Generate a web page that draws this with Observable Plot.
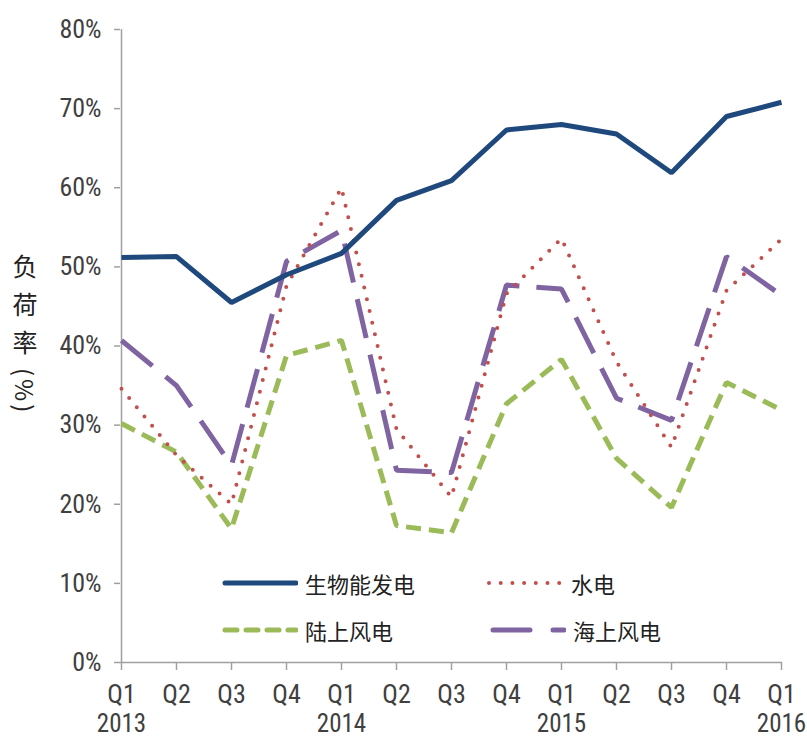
<!DOCTYPE html>
<html>
<head>
<meta charset="utf-8">
<script src="https://cdn.jsdelivr.net/npm/d3@7"></script>
<script src="https://cdn.jsdelivr.net/npm/@observablehq/plot@0.6"></script>
<style>
  html, body { margin: 0; padding: 0; background: #fff; }
  #wrap { position: relative; width: 807px; height: 740px; overflow: hidden; }
  #chart { position: absolute; left: 0; top: 0; }
  .ytitle {
    position: absolute; left: 12px; top: 254px;
    writing-mode: vertical-rl; text-orientation: mixed;
    font-family: "Noto Sans CJK SC", sans-serif; font-size: 25px;
    color: #222; line-height: 1;
  }
  .ytitle .cjk { letter-spacing: 13px; }
  .ytitle .side { text-orientation: sideways; letter-spacing: 3px; font-size: 24px; }
  .leg { position: absolute; display: flex; align-items: center; height: 30px;
         font-family: "Noto Sans CJK SC", sans-serif; font-size: 22px; color: #222; }
  .leg svg { display: block; margin-right: 7px; }
</style>
</head>
<body>
<div id="wrap">
  <div id="chart"></div>
  <div class="ytitle"><span class="cjk">负荷率</span><span class="side">(%)</span></div>
</div>
<script>
// ---- data ----
const periods = ["2013Q1","2013Q2","2013Q3","2013Q4","2014Q1","2014Q2","2014Q3","2014Q4","2015Q1","2015Q2","2015Q3","2015Q4","2016Q1"];
const quarterLabels = ["Q1","Q2","Q3","Q4","Q1","Q2","Q3","Q4","Q1","Q2","Q3","Q4","Q1"];
const yearLabels = ["2013","","","","2014","","","","2015","","","","2016"];
const yTicks = [0,10,20,30,40,50,60,70,80];

const seriesNames = ["生物能发电","水电","陆上风电","海上风电"];
const biomass  = [51.2, 51.3, 45.5, 49.0, 51.7, 58.4, 60.9, 67.3, 68.0, 66.8, 61.9, 69.0, 70.8];
const hydro    = [34.6, 26.2, 20.0, 47.6, 60.0, 29.5, 20.9, 46.6, 53.6, 38.0, 27.2, 47.0, 53.5];
const onshore  = [30.2, 26.6, 16.9, 38.8, 40.7, 17.3, 16.4, 32.7, 38.3, 25.8, 19.6, 35.4, 31.9];
const offshore = [40.7, 35.0, 24.9, 50.7, 54.6, 24.3, 24.0, 47.7, 47.2, 33.4, 30.6, 51.3, 46.4];

// ---- styles ----
const styles = {
  "生物能发电": {stroke: "#1f497d", strokeWidth: 5, dash: null, cap: "butt", legDash: null},
  "水电":       {stroke: "#c0504d", strokeWidth: 4, dash: "0,12", cap: "round", legDash: "0,11.7"},
  "陆上风电":   {stroke: "#9bbb59", strokeWidth: 5, dash: "15,8", cap: "butt", legDash: "12,9"},
  "海上风电":   {stroke: "#8064a2", strokeWidth: 5, dash: "40,17", cap: "butt", legDash: "37,23"}
};

const values = [biomass, hydro, onshore, offshore];
const rows = (arr) => periods.map((p, i) => ({period: p, value: arr[i]}));
const qMap = new Map(periods.map((p, i) => [p, quarterLabels[i]]));
const yMap = new Map(periods.map((p, i) => [p, yearLabels[i]]));

const axisFont = '"Liberation Sans Narrow", "Arial Narrow", "Roboto Condensed", "Liberation Sans", sans-serif';
const textColor = "#404040";
const fs = 26;

const lineMarks = seriesNames.map((name, k) => {
  const s = styles[name];
  return Plot.line(rows(values[k]), {
    x: "period", y: "value",
    stroke: s.stroke, strokeWidth: s.strokeWidth,
    strokeDasharray: s.dash || undefined,
    strokeLinecap: s.cap, strokeLinejoin: "miter"
  });
});
const order = [3, 2, 1, 0];

const chart = Plot.plot({
  width: 807, height: 740,
  marginLeft: 120, marginRight: 25, marginTop: 29, marginBottom: 78,
  style: {fontFamily: axisFont, fontSize: fs + "px", color: textColor, background: "#fff"},
  x: {type: "point", domain: periods, padding: 0},
  y: {domain: [0, 80]},
  marks: [
    Plot.ruleY([0], {stroke: "#a0a0a0", strokeWidth: 1.5}),
    Plot.ruleX([periods[0]], {y1: 0, y2: 80, stroke: "#a0a0a0", strokeWidth: 1.5}),
    Plot.axisY({ticks: yTicks, tickSize: 6, tickPadding: 13, tickFormat: d => d + "%",
                label: null, stroke: "#a0a0a0", strokeWidth: 1.5, fill: textColor, fontSize: fs}),
    Plot.axisX({tickSize: 8, tickPadding: 14, tickFormat: d => qMap.get(d),
                label: null, stroke: "#a0a0a0", strokeWidth: 1.5, fill: textColor, fontSize: fs}),
    Plot.axisX({tickSize: 0, tickPadding: 52, tickFormat: d => yMap.get(d),
                label: null, fill: textColor, fontSize: 25}),
    ...order.map(k => lineMarks[k])
  ]
});
document.getElementById("chart").appendChild(chart);

// ---- legend (inside plot area) ----
const legendPos = [
  {name: "生物能发电", left: 222, top: 568},
  {name: "水电",       left: 486, top: 568},
  {name: "陆上风电",   left: 222, top: 615},
  {name: "海上风电",   left: 490, top: 615}
];
const wrap = document.getElementById("wrap");
legendPos.forEach(lp => {
  const s = styles[lp.name];
  const div = document.createElement("div");
  div.className = "leg";
  div.style.left = lp.left + "px";
  div.style.top = lp.top + "px";
  const w = lp.name === "水电" ? 78 : 76;
  const svg = d3.create("svg").attr("width", w).attr("height", 12);
  svg.append("line").attr("x1", 3).attr("x2", w - 2).attr("y1", 6).attr("y2", 6)
    .attr("stroke", s.stroke).attr("stroke-width", s.strokeWidth)
    .attr("stroke-linecap", "round")
    .attr("stroke-dasharray", s.legDash);
  div.appendChild(svg.node());
  const span = document.createElement("span");
  span.textContent = lp.name;
  div.appendChild(span);
  wrap.appendChild(div);
});
</script>
</body>
</html>
